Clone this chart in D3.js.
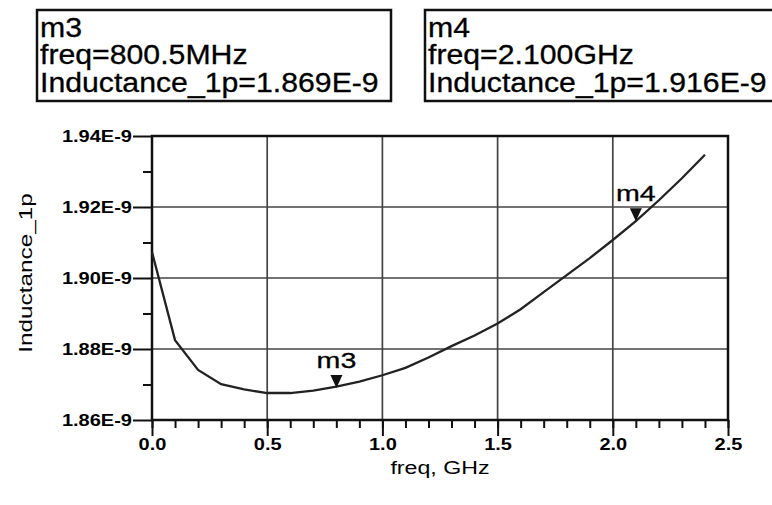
<!DOCTYPE html>
<html>
<head>
<meta charset="utf-8">
<script src="https://cdn.jsdelivr.net/npm/d3@7"></script>
<style>
  body { margin: 0; background: #fff; }
  text { font-family: "Liberation Sans", Arial, sans-serif; fill: #000; }
  .tickLabel { font-weight: bold; font-size: 16px; }
</style>
</head>
<body>
<div id="chart"></div>
<script>
// data (inductance in nH, freq in GHz)
var freq = [0.0, 0.1, 0.2, 0.3, 0.4, 0.5, 0.6, 0.7, 0.8, 0.9, 1.0, 1.1, 1.2,
            1.3, 1.4, 1.5, 1.6, 1.7, 1.8, 1.9, 2.0, 2.1, 2.2, 2.3, 2.4];
var inductance = [1.9073, 1.8825, 1.8741, 1.8701, 1.8686, 1.8676, 1.8676, 1.8683,
                  1.8694, 1.8708, 1.8726, 1.8747, 1.8776, 1.8808, 1.8838, 1.8872,
                  1.8912, 1.8960, 1.9008, 1.9056, 1.9107, 1.9160, 1.9219, 1.9281, 1.9347];
var xTicks = [0.0, 0.5, 1.0, 1.5, 2.0, 2.5];
var yTicks = [1.86, 1.88, 1.90, 1.92, 1.94];
var markerNames = ["m3", "m4"];
var markerFreq = [0.8005, 2.1];
var markerValue = [1.869, 1.916];
var markerLines = [
  ["m3", "freq=800.5MHz", "Inductance_1p=1.869E-9"],
  ["m4", "freq=2.100GHz", "Inductance_1p=1.916E-9"]
];

var svgWidth = 772;
var svgHeight = 505;
var margin = { top: 136, right: 44, bottom: 85, left: 152 };
var width = svgWidth - margin.left - margin.right;
var height = svgHeight - margin.top - margin.bottom;

var svg = d3.select("#chart")
  .append("svg")
  .attr("width", svgWidth)
  .attr("height", svgHeight);

// the picture's fonts are drawn wide, so stretch text along its own x
function stretch(sel, sx, rot) {
  sel.each(function() {
    var t = d3.select(this);
    var x = +t.attr("x") || 0;
    t.attr("x", x / sx)
      .attr("transform", (rot ? "rotate(" + rot + ") " : "") + "scale(" + sx + ",1)");
  });
}

// marker readout boxes
var boxX = [37, 425];
var boxW = [354, 370];
markerLines.forEach(function(lines, i) {
  var g = svg.append("g").attr("transform", "translate(" + boxX[i] + ",10)");
  g.append("rect")
    .attr("width", boxW[i])
    .attr("height", 91)
    .attr("fill", "none")
    .attr("stroke", "#111")
    .attr("stroke-width", 2.5);
  g.selectAll("text").data(lines).enter()
    .append("text")
    .attr("x", 3)
    .attr("y", (d, j) => 27 + j * 27.5)
    .attr("font-size", 27)
    .attr("stroke", "#000")
    .attr("stroke-width", 0.3)
    .text(d => d)
    .call(stretch, 1.12);
});

var chartGroup = svg.append("g")
  .attr("transform", `translate(${margin.left}, ${margin.top})`);

// scales
var xScale = d3.scaleLinear().domain([0, 2.5]).range([0, width]);
var yScale = d3.scaleLinear().domain([1.86, 1.94]).range([height, 0]);

// grid
chartGroup.append("g").selectAll("line").data(xTicks.slice(1, -1)).enter()
  .append("line")
  .attr("x1", d => xScale(d)).attr("x2", d => xScale(d))
  .attr("y1", 0).attr("y2", height)
  .attr("stroke", "#444").attr("stroke-width", 1.7);
chartGroup.append("g").selectAll("line").data(yTicks.slice(1, -1)).enter()
  .append("line")
  .attr("x1", 0).attr("x2", width)
  .attr("y1", d => yScale(d)).attr("y2", d => yScale(d))
  .attr("stroke", "#444").attr("stroke-width", 1.7);

// minor ticks
chartGroup.append("g")
  .attr("transform", `translate(0, ${height})`)
  .call(d3.axisBottom(xScale).tickValues(d3.range(0, 26).map(d => d / 10)).tickSize(8).tickFormat(""))
  .call(g => g.select(".domain").remove())
  .selectAll("line").attr("stroke", "#111").attr("stroke-width", 2);
chartGroup.append("g")
  .call(d3.axisLeft(yScale).tickValues([1.87, 1.89, 1.91, 1.93]).tickSize(9).tickFormat(""))
  .call(g => g.select(".domain").remove())
  .selectAll("line").attr("stroke", "#111").attr("stroke-width", 2);

// major axes
var xAxis = d3.axisBottom(xScale).tickValues(xTicks).tickSize(16).tickPadding(3).tickFormat(d3.format(".1f"));
var yAxis = d3.axisLeft(yScale).tickValues(yTicks).tickSize(19).tickPadding(1).tickFormat(d => d.toFixed(2) + "E-9");

var gx = chartGroup.append("g")
  .attr("transform", `translate(0, ${height})`)
  .call(xAxis);
var gy = chartGroup.append("g")
  .call(yAxis);
[gx, gy].forEach(function(g) {
  g.select(".domain").remove();
  g.selectAll("line").attr("stroke", "#111").attr("stroke-width", 2);
  g.selectAll("text").attr("class", "tickLabel").attr("font-family", null).attr("font-size", null);
});
gx.selectAll("text").call(stretch, 1.25);
gy.selectAll("text").call(stretch, 1.25);

// frame
chartGroup.append("rect")
  .attr("width", width)
  .attr("height", height)
  .attr("fill", "none")
  .attr("stroke", "#111")
  .attr("stroke-width", 2.5);

// curve
var line = d3.line()
  .x((d, i) => xScale(freq[i]))
  .y(d => yScale(d));
chartGroup.append("path")
  .datum(inductance)
  .attr("d", line)
  .attr("fill", "none")
  .attr("stroke", "#222")
  .attr("stroke-width", 2.3);

// markers
markerNames.forEach(function(name, i) {
  var mx = xScale(markerFreq[i]);
  var my = yScale(markerValue[i]);
  chartGroup.append("path")
    .attr("d", `M${mx},${my} L${mx - 6},${my - 13} L${mx + 6},${my - 13} Z`)
    .attr("fill", "#111");
  chartGroup.append("text")
    .attr("x", mx)
    .attr("y", my - 20)
    .attr("text-anchor", "middle")
    .attr("font-size", 22)
    .attr("stroke", "#000")
    .attr("stroke-width", 0.3)
    .text(name)
    .call(stretch, 1.3);
});

// axis labels
chartGroup.append("text")
  .attr("x", -height / 2 + 5)
  .attr("y", -margin.left + 32)
  .attr("text-anchor", "middle")
  .attr("font-size", 19)
  .text("Inductance_1p")
  .call(stretch, 1.28, -90);

chartGroup.append("text")
  .attr("x", width / 2 + 0)
  .attr("y", height + 54)
  .attr("text-anchor", "middle")
  .attr("font-size", 19)
  .text("freq, GHz")
  .call(stretch, 1.22);
</script>
</body>
</html>
